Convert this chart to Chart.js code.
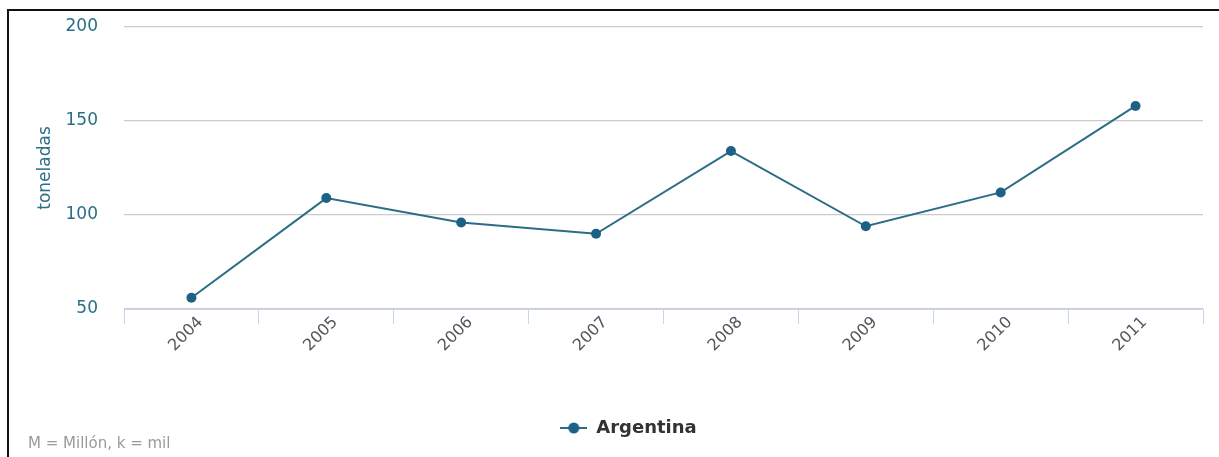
<!DOCTYPE html>
<html>
<head>
<meta charset="utf-8">
<script src="https://cdn.jsdelivr.net/npm/chart.js@4"></script>
<style>
  html,body{margin:0;padding:0;background:#fff;overflow:hidden}
  #wrap{position:relative;width:1219px;height:457px}
  #frame{position:absolute;left:7px;top:9px;right:0;bottom:0;border-top:2px solid #111;border-left:2px solid #111;pointer-events:none}
  #note{position:absolute;left:28px;top:434px;font:15px "DejaVu Sans",sans-serif;color:#999}
  canvas{position:absolute;left:0;top:0}
</style>
</head>
<body>
<div id="wrap">
  <canvas id="c" width="1219" height="457"></canvas>
  <div id="frame"></div>
  <div id="note">M = Millón, k = mil</div>
</div>
<script>
const years = ['2004','2005','2006','2007','2008','2009','2010','2011']
const argentina = [56, 109, 96, 90, 134, 94, 112, 158]
const yTicks = [50, 100, 150, 200]

const lineColor = '#2c6d86'
const dotColor = '#1d6187'
const tealText = '#2b6e87'
const fam = '"DejaVu Sans", sans-serif'

// legend marker: short line with a dot
function legendMarker(){
  const cv = document.createElement('canvas')
  cv.width = 27; cv.height = 12
  const g = cv.getContext('2d')
  g.strokeStyle = lineColor; g.lineWidth = 2
  g.beginPath(); g.moveTo(0,6); g.lineTo(27,6); g.stroke()
  g.fillStyle = dotColor
  g.beginPath(); g.arc(13.5,6,5.5,0,Math.PI*2); g.fill()
  return cv
}
const marker = legendMarker()

// legend sits a bit right of the canvas centre in the original
const legendShift = {
  id: 'legendShift',
  afterLayout(chart){
    if(chart.legend){ chart.legend.left += 21; chart.legend.right += 21 }
  }
}

new Chart(document.getElementById('c'), {
  type: 'line',
  data: {
    labels: years,
    datasets: [{
      label: 'Argentina',
      data: argentina,
      borderColor: lineColor,
      backgroundColor: dotColor,
      borderWidth: 2,
      pointRadius: 5,
      pointBackgroundColor: dotColor,
      pointBorderWidth: 0,
      tension: 0,
      pointStyle: 'circle'
    }]
  },
  plugins: [legendShift],
  options: {
    responsive: false,
    animation: false,
    layout: { padding: { left: 12, top: 27, right: 16, bottom: 10 } },
    plugins: {
      tooltip: { enabled: false },
      legend: {
        position: 'bottom',
        labels: {
          usePointStyle: true,
          pointStyleWidth: 27,
          padding: 10,
          color: '#333',
          font: { family: fam, size: 18, weight: 'bold' },
          generateLabels: chart => chart.data.datasets.map((ds,i)=>({
            text: ds.label, pointStyle: marker, fillStyle: dotColor,
            strokeStyle: dotColor, lineWidth: 0, datasetIndex: i, fontColor: '#333'
          }))
        }
      }
    },
    scales: {
      x: {
        offset: true,
        grid: { offset: true, drawOnChartArea: false, drawTicks: true, tickLength: 15, color: '#ccd6eb' },
        border: { color: '#ccd6eb', width: 1 },
        ticks: {
          color: '#555',
          font: { family: fam, size: 16 },
          minRotation: 45, maxRotation: 45, padding: -11, labelOffset: 9
        },
        afterFit: s => { s.height = 100 }
      },
      y: {
        min: 50, max: 200,
        afterBuildTicks: s => { s.ticks = yTicks.map(v=>({value:v})) },
        grid: { color: '#cccccc', drawTicks: true, tickLength: 20, tickColor: 'rgba(0,0,0,0)', lineWidth: 1.2 },
        border: { display: false },
        ticks: {
          color: tealText, padding: 6,
          font: { family: fam, size: 17 }
        },
        title: {
          display: true, text: 'toneladas', color: tealText,
          font: { family: fam, size: 17 },
          padding: { top: 23, bottom: 0 }
        },
        afterFit: s => { s.width = 112 }
      }
    }
  }
})
</script>
</body>
</html>
